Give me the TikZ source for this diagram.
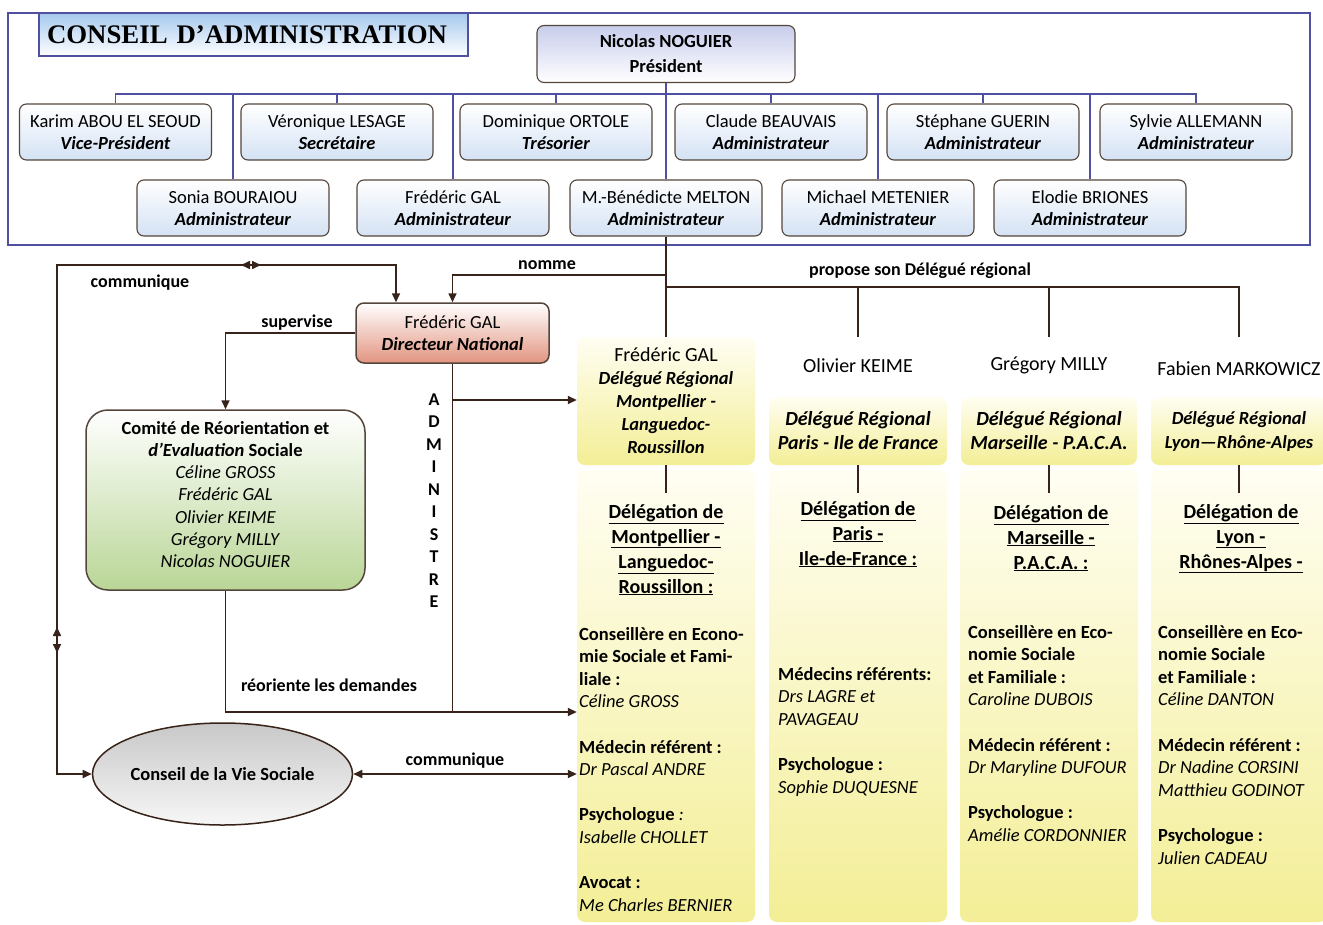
\documentclass[tikz,border=0pt]{standalone}
\usepackage{fontspec}
\setmainfont{Carlito}
\newfontfamily\hdrfont{Liberation Serif}
\usetikzlibrary{arrows.meta,shapes.geometric}
\definecolor{navy}{RGB}{80,80,160}
\definecolor{brd}{RGB}{85,70,60}
\definecolor{connc}{RGB}{55,35,25}
\definecolor{admblue}{RGB}{212,226,244}
\definecolor{preslav}{RGB}{200,205,236}
\definecolor{hdrblue}{RGB}{165,200,238}
\definecolor{dirred}{RGB}{226,148,128}
\definecolor{comgreen}{RGB}{185,214,150}
\definecolor{cvsgray}{RGB}{200,200,200}
\definecolor{yel}{RGB}{243,238,150}
\definecolor{yelpale}{RGB}{255,254,242}
\begin{document}
\begin{tikzpicture}[x=1pt,y=-1pt,
  tl/.style={draw=navy, line width=1.3pt},
  conn/.style={draw=connc, line width=1.6pt},
  arr/.style={-{Triangle[length=9pt,width=8pt]}},
  darr/.style={{Triangle[length=9pt,width=8pt]}-{Triangle[length=9pt,width=8pt]}},
  adm/.style={draw=brd, line width=1.1pt, rounded corners=7pt, top color=white, bottom color=admblue,
    minimum width=192pt, minimum height=56pt, align=center, inner sep=0pt, font=\fontsize{18.5}{22}\selectfont},
  lbl/.style={font=\bfseries\fontsize{18}{22}\selectfont, inner sep=0pt},
  panel/.style={rounded corners=8pt, top color=yelpale, bottom color=yel, inner sep=0pt, minimum width=178pt},
  namen/.style={anchor=north, inner sep=0pt, font=\fontsize{20}{24}\selectfont, minimum width=170pt},
  coltext/.style={anchor=base west, inner sep=0pt, font=\fontsize{18.5}{22.6}\selectfont},
  headt/.style={anchor=base, inner sep=0pt, font=\bfseries\fontsize{20}{25}\selectfont}
]
\useasboundingbox (0,0) rectangle (1323,924);
\fill[white] (0,0) rectangle (1323,924);

% ---------- Conseil d'administration ----------
\node[draw=navy, line width=1.8pt, minimum width=1302pt, minimum height=232pt, inner sep=0pt] (ca) at (659,129) {};
\node[draw=navy, line width=1.5pt, top color=hdrblue, bottom color=white, minimum width=429pt, minimum height=43pt,
  text width=413pt, align=left, inner xsep=8pt, inner ysep=0pt,
  font=\hdrfont\bfseries\fontsize{26.8}{30}\selectfont] (hdr) at (253.5,34.5) {CONSEIL D’ADMINISTRATION};

\node[adm, minimum width=258pt, minimum height=57pt, top color=preslav, bottom color=white,
  font=\bfseries\fontsize{18.5}{25}\selectfont] (pres) at (666,54) {Nicolas NOGUIER\\Président};

\node[adm] (karim) at (115.5,132) {Karim ABOU EL SEOUD\\\textbf{\textit{Vice-Président}}};
\node[adm] (vero) at (337,132) {Véronique LESAGE\\\textbf{\textit{Secrétaire}}};
\node[adm] (domi) at (556,132) {Dominique ORTOLE\\\textbf{\textit{Trésorier}}};
\node[adm] (claude) at (771,132) {Claude BEAUVAIS\\\textbf{\textit{Administrateur}}};
\node[adm] (steph) at (983,132) {Stéphane GUERIN\\\textbf{\textit{Administrateur}}};
\node[adm] (sylvie) at (1196,132) {Sylvie ALLEMANN\\\textbf{\textit{Administrateur}}};

\node[adm] (sonia) at (233,208) {Sonia BOURAIOU\\\textbf{\textit{Administrateur}}};
\node[adm] (fgal) at (453,208) {Frédéric GAL\\\textbf{\textit{Administrateur}}};
\node[adm] (melton) at (666,208) {M.-Bénédicte MELTON\\\textbf{\textit{Administrateur}}};
\node[adm] (michael) at (878,208) {Michael METENIER\\\textbf{\textit{Administrateur}}};
\node[adm] (elodie) at (1090,208) {Elodie BRIONES\\\textbf{\textit{Administrateur}}};

\coordinate (bar) at (0,94);
\draw[tl] (karim.north) -- (karim.north |- bar) -- (sylvie.north |- bar) -- (sylvie.north);
\foreach \n in {vero,domi,claude,steph,sonia,fgal,michael,elodie}
  \draw[tl] (\n.north) -- (\n.north |- bar);
\draw[tl] (pres.south) -- (melton.north);

% ---------- Delegation panels ----------
\node[panel, minimum height=452pt] (d1p) at (666,696) {};
\node[panel, minimum height=452pt] (d2p) at (858,696) {};
\node[panel, minimum height=452pt] (d3p) at (1049,696) {};
\node[panel, minimum height=452pt, minimum width=176pt] (d4p) at (1239,696) {};

\node[panel, minimum height=128pt, align=center, font=\bfseries\itshape\fontsize{18.5}{23}\selectfont]
  (d1h) at (666,401) {\textmd{\textup{\fontsize{20}{23}\selectfont Frédéric GAL}}\\Délégué Régional\\Montpellier -\\Languedoc-\\Roussillon};
\node[panel, minimum height=68pt, align=center, font=\bfseries\itshape\fontsize{20}{24}\selectfont]
  (d2h) at (858,431) {Délégué Régional\\Paris - Ile de France};
\node[panel, minimum height=68pt, minimum width=176pt, align=center, font=\bfseries\itshape\fontsize{20}{24}\selectfont]
  (d3h) at (1049,431) {Délégué Régional\\Marseille - P.A.C.A.};
\node[panel, minimum height=68pt, minimum width=176pt, align=center, font=\bfseries\itshape\fontsize{18.5}{24}\selectfont]
  (d4h) at (1239,431) {Délégué Régional\\Lyon—Rhône-Alpes};

\node[namen, minimum height=56pt] (d2n) at (858,337) {Olivier KEIME};
\node[namen, minimum height=56pt] (d3n) at (1049,337) {Grégory MILLY};
\node[namen, minimum height=62pt] (d4n) at (1239,337) {Fabien MARKOWICZ};

% ---------- Left side nodes ----------
\node[draw=brd, line width=1.5pt, rounded corners=8pt, top color=white, bottom color=dirred,
  minimum width=193pt, minimum height=60pt, inner sep=0pt, align=center,
  font=\fontsize{18.5}{22}\selectfont] (dir) at (452.5,333) {Frédéric GAL\\\textbf{\textit{Directeur National}}};

\node[draw=brd, line width=1.5pt, rounded corners=22pt, top color=white, bottom color=comgreen,
  minimum width=279pt, minimum height=180pt, inner sep=0pt] (comite) at (225.5,500) {};
\node[anchor=base, inner sep=0pt, font=\fontsize{18.5}{22.3}\selectfont] (comtext) at (225.5,434)
  {\parbox[t]{270pt}{\centering\textbf{Comité de Réorientation et}\\
   \textbf{\textit{d’Evaluation} Sociale}\\
   \textit{Céline GROSS}\\\textit{Frédéric GAL}\\\textit{Olivier KEIME}\\\textit{Grégory MILLY}\\\textit{Nicolas NOGUIER}}};

\node[ellipse, draw=connc, line width=1.5pt, top color=cvsgray, bottom color=white!85!cvsgray,
  minimum width=211pt, minimum height=102pt, inner sep=0pt,
  font=\bfseries\fontsize{18.5}{22}\selectfont] (cvs) at (222.5,774) {Conseil de la Vie Sociale};

% ---------- Coordinates ----------
\coordinate (jn) at (666,275);
\coordinate (jp) at (666,287);
\coordinate (lx) at (57,0);
\coordinate (ty) at (0,265);
\coordinate (dx) at (396,0);
\coordinate (ay) at (0,400);
\coordinate (ry) at (0,712);
\coordinate (mh) at (251,265);
\coordinate (mv) at (57,640);
\coordinate (t1) at (666,493);
\coordinate (t2) at (858,493);
\coordinate (t3) at (1049,493);
\coordinate (t4) at (1239,493);

% ---------- Connectors ----------
\draw[conn] (melton.south) -- (d1h.north);
\draw[conn, arr] (jn) -- (jn -| dir.north) -- (dir.north);
\draw[conn] (jp) -- (jp -| d4n.north) -- (d4n.north);
\draw[conn] (d2n.north |- jp) -- (d2n.north);
\draw[conn] (d3n.north |- jp) -- (d3n.north);
\draw[conn] (d1h.south) -- (t1);
\draw[conn] (d2h.south) -- (t2);
\draw[conn] (d3h.south) -- (t3);
\draw[conn] (d4h.south) -- (t4);

\draw[conn, darr] (cvs.west) -- (cvs.west -| lx) -- (lx |- ty) -- (dx |- ty) -- (dx |- dir.north);
\draw[conn, arr] (mh) -- ++(-10,0);
\draw[conn, arr] (mh) -- ++(10,0);
\draw[conn, arr] (mv) -- ++(0,-13);
\draw[conn, arr] (mv) -- ++(0,13);

\draw[conn, arr] (dir.west) -- (dir.west -| comite.north) -- (comite.north);
\draw[conn] (dir.south) -- (dir.south |- ry);
\draw[conn, arr] (dir.south |- ay) -- (d1h.west |- ay);
\draw[conn, arr] (comite.south) -- (comite.south |- ry) -- (d1p.west |- ry);
\draw[conn, darr] (cvs.east) -- (d1p.west |- cvs.east);

% ---------- Labels ----------
\node[lbl] (lcomm1) at (140,283) {communique};
\node[lbl] (lnomme) at (547,265) {nomme};
\node[lbl] (lsup) at (297,323) {supervise};
\node[lbl] (lprop) at (920,271) {propose son Délégué régional};
\node[lbl] (lreor) at (329,685) {réoriente les demandes};
\node[lbl] (lcomm2) at (455,761) {communique};
\node[lbl, align=center, font=\bfseries\fontsize{18}{22.5}\selectfont] (ladm) at (434,500.5) {A\\D\\M\\I\\N\\I\\S\\T\\R\\E};

% ---------- Delegation headings ----------
\node[headt] (h1) at (666,518) {\parbox[t]{175pt}{\centering\underline{Délégation de}\\\underline{Montpellier -}\\\underline{Languedoc-}\\\underline{Roussillon :}}};
\node[headt] (h2) at (858,515) {\parbox[t]{175pt}{\centering\underline{Délégation de}\\\underline{Paris -}\\\underline{Ile-de-France :}}};
\node[headt] (h3) at (1051,519) {\parbox[t]{175pt}{\centering\underline{Délégation de}\\\underline{Marseille -}\\\underline{P.A.C.A. :}}};
\node[headt] (h4) at (1241,518) {\parbox[t]{175pt}{\centering\underline{Délégation de}\\\underline{Lyon -}\\\underline{Rhônes-Alpes -}}};

% ---------- Delegation staff ----------
\node[coltext] (c1) at (579,640) {\parbox[t]{176pt}{\raggedright
  \textbf{Conseillère en Econo-}\\\textbf{mie Sociale et Fami-}\\\textbf{liale :}\\\textit{Céline GROSS}\\[22.6pt]
  \textbf{Médecin référent :}\\\textit{Dr Pascal ANDRE}\\[22.6pt]
  \textbf{Psychologue} \textit{:}\\\textit{Isabelle CHOLLET}\\[22.6pt]
  \textbf{Avocat :}\\\textit{Me Charles BERNIER}}};
\node[coltext] (c2) at (778,680) {\parbox[t]{176pt}{\raggedright
  \textbf{Médecins référents:}\\\textit{Drs LAGRE et}\\\textit{PAVAGEAU}\\[22.6pt]
  \textbf{Psychologue :}\\\textit{Sophie DUQUESNE}}};
\node[coltext] (c3) at (968,638) {\parbox[t]{176pt}{\raggedright
  \textbf{Conseillère en Eco-}\\\textbf{nomie Sociale}\\\textbf{et Familiale :}\\\textit{Caroline DUBOIS}\\[22.6pt]
  \textbf{Médecin référent :}\\\textit{Dr Maryline DUFOUR}\\[22.6pt]
  \textbf{Psychologue :}\\\textit{Amélie CORDONNIER}}};
\node[coltext] (c4) at (1158,638) {\parbox[t]{176pt}{\raggedright
  \textbf{Conseillère en Eco-}\\\textbf{nomie Sociale}\\\textbf{et Familiale :}\\\textit{Céline DANTON}\\[22.6pt]
  \textbf{Médecin référent :}\\\textit{Dr Nadine CORSINI}\\\textit{Matthieu GODINOT}\\[22.6pt]
  \textbf{Psychologue :}\\\textit{Julien CADEAU}}};
\end{tikzpicture}
\end{document}
